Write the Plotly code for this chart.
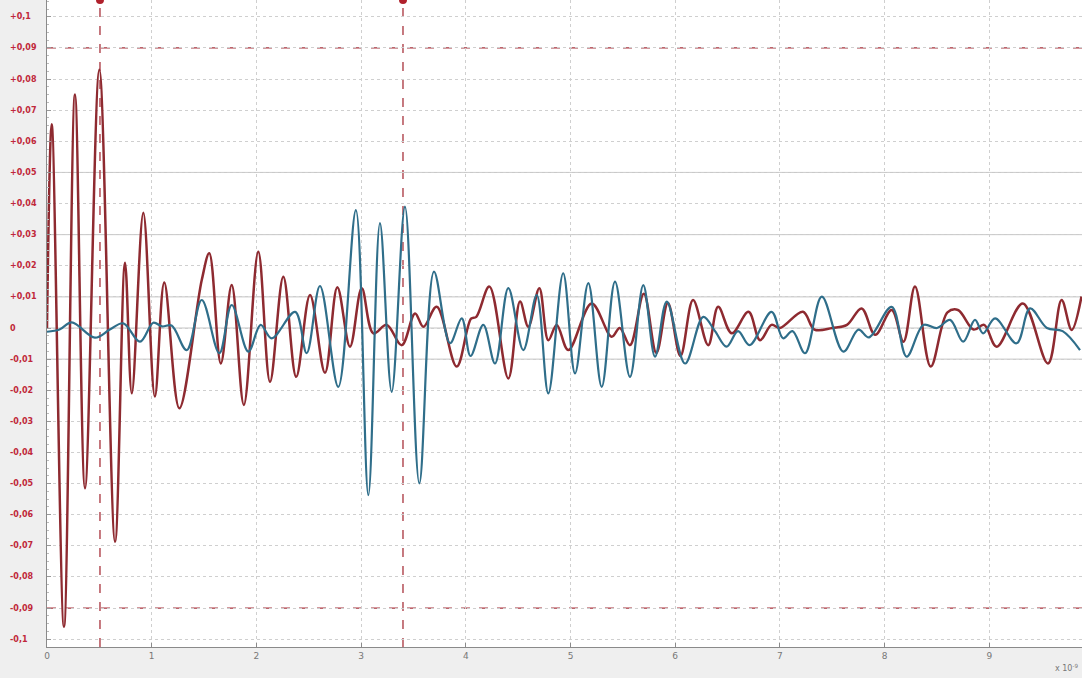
import plotly.graph_objects as go

# ---------------- data (time in units of 1e-9 s) ----------------
red_x = [0.0, 0.045, 0.162, 0.267, 0.363, 0.50, 0.65, 0.745, 0.81, 0.92, 1.03, 1.12, 1.264,
         1.478, 1.55, 1.66, 1.764, 1.88, 2.018, 2.13, 2.257, 2.38, 2.512, 2.655, 2.773, 2.894,
         3.006, 3.117, 3.245, 3.388, 3.515, 3.595, 3.722, 3.913, 4.05, 4.10, 4.225, 4.406,
         4.518, 4.597, 4.702, 4.788, 4.868, 4.979, 5.202, 5.393, 5.47, 5.568, 5.70, 5.82, 5.93,
         6.05, 6.17, 6.315, 6.41, 6.54, 6.70, 6.81, 6.92, 7.0, 7.22, 7.33, 7.5, 7.64, 7.78,
         7.91, 8.067, 8.18, 8.29, 8.44, 8.60, 8.70, 8.85, 8.95, 9.07, 9.32, 9.56, 9.69, 9.786, 9.88]
red_y = [0.0, 0.0655, -0.096, 0.075, -0.0515, 0.083, -0.0687, 0.021, -0.021, 0.037, -0.022, 0.0146,
         -0.0258, 0.0154, 0.024, -0.0114, 0.0138, -0.0247, 0.0245, -0.0173, 0.0165, -0.0157, 0.0106,
         -0.0144, 0.0131, -0.006, 0.0128, -0.0017, 0.001, -0.0055, 0.0047, 0.0004, 0.0068, -0.0124,
         0.003, 0.0036, 0.0133, -0.0162, 0.0085, 0.0004, 0.0128, -0.0039, 0.001, -0.0071, 0.0079,
         -0.0028, 0.0, -0.0055, 0.011, -0.008, 0.008, -0.009, 0.009, -0.0055, 0.0068, -0.0017,
         0.0052, -0.0039, 0.001, 0.0, 0.0052, -0.0005, 0.0, 0.001, 0.0063, -0.0022, 0.0058, -0.0044,
         0.0133, -0.0124, 0.005, 0.0058, -0.0005, 0.001, -0.006, 0.0079, -0.0114, 0.009, -0.0006, 0.0101]

blue_x = [0.0, 0.12, 0.236, 0.458, 0.60, 0.729, 0.888, 1.015, 1.10, 1.19, 1.334, 1.478, 1.646,
          1.764, 1.923, 2.04, 2.146, 2.37, 2.48, 2.607, 2.782, 2.95, 3.069, 3.18, 3.292, 3.419,
          3.556, 3.696, 3.849, 3.961, 4.045, 4.167, 4.279, 4.406, 4.549, 4.677, 4.788, 4.93,
          5.043, 5.17, 5.298, 5.425, 5.568, 5.695, 5.807, 5.919, 6.094, 6.268, 6.38, 6.49, 6.60,
          6.71, 6.92, 7.03, 7.12, 7.24, 7.40, 7.605, 7.75, 7.85, 8.067, 8.21, 8.37, 8.50, 8.625,
          8.75, 8.863, 8.94, 9.055, 9.26, 9.389, 9.55, 9.70, 9.866]
blue_y = [-0.0012, -0.0005, 0.0018, -0.0031, -0.0005, 0.0015, -0.0044, 0.0017, 0.0005, 0.0008,
          -0.0071, 0.009, -0.0081, 0.0074, -0.0076, 0.001, -0.0033, 0.0052, -0.0081, 0.0135,
          -0.0189, 0.0379, -0.0537, 0.0337, -0.0205, 0.039, -0.0499, 0.0181, -0.0049, 0.0031,
          -0.009, 0.001, -0.0114, 0.0128, -0.0071, 0.0106, -0.021, 0.0176, -0.0146, 0.0144,
          -0.0189, 0.0149, -0.0157, 0.0138, -0.0092, 0.0085, -0.0114, 0.0036, -0.001, -0.006,
          -0.001, -0.0055, 0.0052, -0.0033, -0.001, -0.0081, 0.0101, -0.0076, -0.0005, -0.003,
          0.0068, -0.0092, 0.001, 0.0, 0.0026, -0.0044, 0.0026, -0.0017, 0.0031, -0.0049, 0.0063,
          0.0, -0.001, -0.0071]

x_ticks = [0, 1, 2, 3, 4, 5, 6, 7, 8, 9]
y_ticks = [0.1, 0.09, 0.08, 0.07, 0.06, 0.05, 0.04, 0.03, 0.02, 0.01, 0.0,
           -0.01, -0.02, -0.03, -0.04, -0.05, -0.06, -0.07, -0.08, -0.09, -0.1]
y_solid = [0.05, 0.03, 0.01, 0.0, -0.01]
cursor_x = [0.506, 3.40]
limit_y = [0.09, -0.09]

X_RANGE = [0, 9.885]
Y_RANGE = [-0.1025, 0.1054]

RED = "#8e2a30"
BLUE = "#2f6e8a"
LABEL_RED = "#c0283a"


def fmt(v):
    if abs(v) < 1e-12:
        return "0"
    s = ("%.2f" % abs(v)).rstrip("0").replace(".", ",")
    return ("+" if v > 0 else "-") + s


fig = go.Figure()

for yv in limit_y:
    fig.add_shape(type="line", xref="paper", x0=0, x1=1, yref="y", y0=yv, y1=yv,
                  line=dict(color="#a8323c", width=1.3, dash="dash"), layer="below")
for yv in y_solid:
    fig.add_shape(type="line", xref="paper", x0=0, x1=1, yref="y", y0=yv, y1=yv,
                  line=dict(color="#c4c4c4", width=1), layer="below")
for xv in cursor_x:
    fig.add_shape(type="line", yref="paper", y0=0, y1=1, xref="x", x0=xv, x1=xv,
                  line=dict(color="#a8323c", width=1.3, dash="dash"), layer="below")

fig.add_trace(go.Scatter(x=red_x, y=red_y, mode="lines",
                         line=dict(color=RED, width=2.5, shape="spline", smoothing=1.0),
                         hoverinfo="skip", showlegend=False))
fig.add_trace(go.Scatter(x=blue_x, y=blue_y, mode="lines",
                         line=dict(color=BLUE, width=2.2, shape="spline", smoothing=1.0),
                         hoverinfo="skip", showlegend=False))

fig.add_trace(go.Scatter(x=cursor_x, y=[Y_RANGE[1]] * len(cursor_x), mode="markers",
                         marker=dict(color="#b0202c", size=8, symbol="circle"), cliponaxis=False,
                         hoverinfo="skip", showlegend=False))

for v in y_ticks:
    fig.add_annotation(xref="paper", x=0, xshift=-39, xanchor="left", yref="y", y=v, yanchor="middle",
                       text="<b>%s</b>" % fmt(v), showarrow=False,
                       font=dict(family="DejaVu Sans", size=8, color=LABEL_RED))

fig.add_annotation(xref="paper", x=1, xanchor="right", xshift=-2, yref="paper", y=0, yshift=-21,
                   yanchor="middle", text="x 10<sup>-9</sup>", showarrow=False,
                   font=dict(family="DejaVu Sans", size=8, color="#777777"))

fig.update_layout(
    width=1082, height=678,
    margin=dict(l=47, r=0, t=0, b=31),
    paper_bgcolor="#efefef", plot_bgcolor="#ffffff",
    xaxis=dict(range=X_RANGE, tickvals=x_ticks, ticktext=[str(t) for t in x_ticks],
               showgrid=True, gridcolor="#cfcfcf", griddash="dot", gridwidth=1,
               zeroline=False, showline=True, linecolor="#8a8a8a", linewidth=1,
               ticks="inside", ticklen=4, tickcolor="#8a8a8a",
               tickfont=dict(family="DejaVu Sans", size=9, color="#777777")),
    yaxis=dict(range=Y_RANGE, tickvals=y_ticks, showticklabels=False,
               showgrid=True, gridcolor="#cfcfcf", griddash="dot", gridwidth=1,
               zeroline=False, showline=True, linecolor="#8a8a8a", linewidth=1,
               ticks="inside", ticklen=4, tickcolor="#999999",
               minor=dict(dtick=0.0025, ticks="inside", ticklen=2, tickcolor="#bbbbbb", showgrid=False)),
)

fig.write_html(
    "out.html",
    config={"displayModeBar": False},
    post_script="document.body.style.margin='0';document.body.style.overflow='hidden';",
)
